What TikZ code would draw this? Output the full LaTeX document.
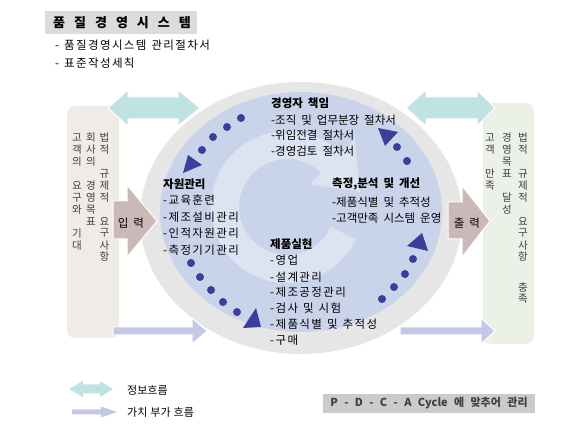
\documentclass[tikz,border=0pt]{standalone}
\usepackage{fontspec}
\setmainfont{Noto Sans CJK KR}
\newfontfamily\krwide[LetterSpace=12]{Noto Sans CJK KR}
\definecolor{graybg}{HTML}{E6E6E6}
\definecolor{bluebg}{HTML}{C9D3EA}
\definecolor{ringlt}{HTML}{DCE3F1}
\definecolor{dotblue}{HTML}{3B3E9A}
\definecolor{tealar}{HTML}{BEE3E2}
\definecolor{lavar}{HTML}{C5C7E6}
\definecolor{mauvear}{HTML}{CBB9B7}
\definecolor{lpanel}{HTML}{EFEBE6}
\definecolor{rpanel}{HTML}{ECF1E7}
\definecolor{titlebg}{HTML}{DCDCDC}
\definecolor{pdcabg}{HTML}{CBCBCB}
\newcommand\wsp[1]{\spaceskip #1\relax}
\begin{document}
\begin{tikzpicture}[x=1pt,y=-1pt,
  body/.style={anchor=west, inner sep=0pt, font=\fontsize{11.5}{14}\selectfont\wsp{5pt}},
  wbody/.style={anchor=west, inner sep=0pt, font=\krwide\fontsize{11.5}{14}\selectfont\wsp{5pt}},
  head/.style={anchor=west, inner sep=0pt, font=\fontsize{11.5}{14}\selectfont\bfseries\wsp{5pt}},
  vchar/.style={inner sep=0pt, text=black!75, font=\fontsize{10.5}{12}\selectfont},
  cdot/.style={circle, fill=dotblue, inner sep=0pt, minimum size=8pt},
  blk/.style={draw=white, line width=1pt}]
\useasboundingbox (0,0) rectangle (566,425);

% title
\fill[titlebg] (45,11) rectangle (197,34);
\node[inner sep=0pt, font=\fontsize{13}{15}\selectfont\bfseries\wsp{9pt}] (title) at (122,22.5) {품 질 경 영 시 스 템};
\node[wbody] (sub1) at (55,45) {- 품질경영시스템 관리절차서};
\node[wbody] (sub2) at (55,63) {- 표준작성세칙};

% side panels
\fill[lpanel, rounded corners=8pt] (67,106) rectangle (119,338);
\fill[rpanel, rounded corners=8pt] (483,103) rectangle (534,344);

% ellipses
\fill[graybg] (301,218) ellipse [x radius=161, y radius=136];
\fill[bluebg] (301,212) ellipse [x radius=141, y radius=120];

% light circular arrow
\draw[ringlt, line width=28pt] plot[domain=45:335, samples=80, variable=\t] ({287+62*cos(\t)}, {207-62*sin(\t)});
\fill[ringlt] ({287+32*cos(45)}, {207-32*sin(45)}) -- ({287+96*cos(45)}, {207-96*sin(45)}) -- (360,192) -- cycle;

% dotted cycle arrows
\foreach \x/\y [count=\i] in {241/118, 227/127, 213/137, 202/150} \node[cdot] (tl\i) at (\x,\y) {};
\fill[dotblue] (183,173) -- (188,155) -- (202,165) -- cycle;
\foreach \x/\y [count=\i] in {191/263, 200/277, 211/290, 223/302, 237/312} \node[cdot] (bl\i) at (\x,\y) {};
\fill[dotblue] (261,327) -- (256,308) -- (243,328) -- cycle;
\foreach \x/\y [count=\i] in {382/299, 394/287, 405/274, 413/259} \node[cdot] (br\i) at (\x,\y) {};
\fill[dotblue] (422,233) -- (407,246) -- (428,251) -- cycle;
\foreach \x/\y [count=\i] in {407/161, 397/147} \node[cdot] (tr\i) at (\x,\y) {};
\fill[dotblue] (378,128) -- (398,132) -- (385,146) -- cycle;

% teal double arrows
\fill[tealar, blk] (108,108) -- (128,90) -- (128,97) -- (178,97) -- (178,90) -- (200,108) -- (178,126) -- (178,119) -- (128,119) -- (128,126) -- cycle;
\fill[tealar, blk] (406,108) -- (426,90) -- (426,97) -- (477,97) -- (477,90) -- (495,108) -- (477,126) -- (477,119) -- (426,119) -- (426,126) -- cycle;

% lavender value arrows
\fill[lavar, blk] (113,327) -- (192,327) -- (192,318) -- (207,331) -- (192,344) -- (192,335) -- (113,335) -- cycle;
\fill[lavar, blk] (400,327) -- (481,327) -- (481,318) -- (495,331) -- (481,344) -- (481,335) -- (400,335) -- cycle;

% input / output arrows
\fill[mauvear, blk] (113,201) -- (127,201) -- (127,185) -- (157,221) -- (127,257) -- (127,239) -- (113,239) -- cycle;
\node[body, anchor=center] (inp) at (131,223) {입 력};
\fill[mauvear, blk] (448,202) -- (462,202) -- (462,186) -- (490,221) -- (462,257) -- (462,239) -- (448,239) -- cycle;
\node[body, anchor=center] (outp) at (467,223) {출 력};

% vertical texts left
\foreach \c/\s [count=\i] in {고/0,객/1,의/2,요/4,구/5,와/6,기/8,대/9}
  \node[vchar] (la\i) at (77,{138+11.9*\s}) {\c};
\foreach \c/\s [count=\i] in {회/0,사/1,의/2,경/4,영/5,목/6,표/7}
  \node[vchar] (lb\i) at (91,{138+11.9*\s}) {\c};
\foreach \c/\s [count=\i] in {법/0,적/1,규/3,제/4,적/5,요/7,구/8,사/9,항/10}
  \node[vchar] (lc\i) at (104.5,{138+11.9*\s}) {\c};
% vertical texts right
\foreach \c/\s [count=\i] in {고/0,객/1,만/3,족/4}
  \node[vchar] (ra\i) at (490,{138+11.9*\s}) {\c};
\foreach \c/\s [count=\i] in {경/0,영/1,목/2,표/3,달/5,성/6}
  \node[vchar] (rb\i) at (507,{138+11.9*\s}) {\c};
\foreach \c/\s [count=\i] in {법/0,적/1,규/3,제/4,적/5,요/7,구/8,사/9,항/10,충/12.6,족/13.5}
  \node[vchar] (rc\i) at (523,{138+11.9*\s}) {\c};

% process texts
\node[head] (m0) at (271,103) {경영자 책임};
\node[body] (m1) at (271,120) {-조직 및 업무분장 절차서};
\node[body] (m2) at (271,135) {-위임전결 절차서};
\node[body] (m3) at (271,151) {-경영검토 절차서};

\node[head] (r0) at (163,184) {자원관리};
\node[wbody] (r1) at (163,200) {-교육훈련};
\node[wbody] (r2) at (163,217) {-제조설비관리};
\node[wbody] (r3) at (163,233) {-인적자원관리};
\node[wbody] (r4) at (163,250) {-측정기기관리};

\node[head] (a0) at (332,184) {측정,분석 및 개선};
\node[body] (a1) at (332,202) {-제품식별 및 추적성};
\node[body] (a2) at (332,218) {-고객만족 시스템 운영};

\node[head] (p0) at (270,244) {제품실현};
\node[wbody] (p1) at (270,260) {-영업};
\node[wbody] (p2) at (270,277) {-설계관리};
\node[wbody] (p3) at (270,292) {-제조공정관리};
\node[wbody] (p4) at (270,308) {-검사 및 시험};
\node[wbody] (p5) at (270,324) {-제품식별 및 추적성};
\node[wbody] (p6) at (270,340) {-구매};

% legend
\fill[tealar] (69,389) -- (83,381) -- (83,384.5) -- (100,384.5) -- (100,381) -- (113,389) -- (100,397) -- (100,393.5) -- (83,393.5) -- (83,397) -- cycle;
\node[body, font=\fontsize{11}{13}\selectfont\wsp{3pt}] (lg1) at (127,390) {정보흐름};
\fill[lavar] (72,409.5) -- (101,409.5) -- (101,406.5) -- (117,412) -- (101,417.5) -- (101,414.5) -- (72,414.5) -- cycle;
\node[body, font=\fontsize{11}{13}\selectfont\wsp{3pt}] (lg2) at (127,412) {가치 부가 흐름};

% PDCA box
\fill[pdcabg] (323,394) rectangle (535,413);
\node[inner sep=0pt, text=black!75, font=\fontsize{11}{13}\selectfont\bfseries\wsp{6.4pt}] (pdca) at (429,403.5) {P - D - C - A Cycle 에 맞추어 관리};
\end{tikzpicture}
\end{document}
